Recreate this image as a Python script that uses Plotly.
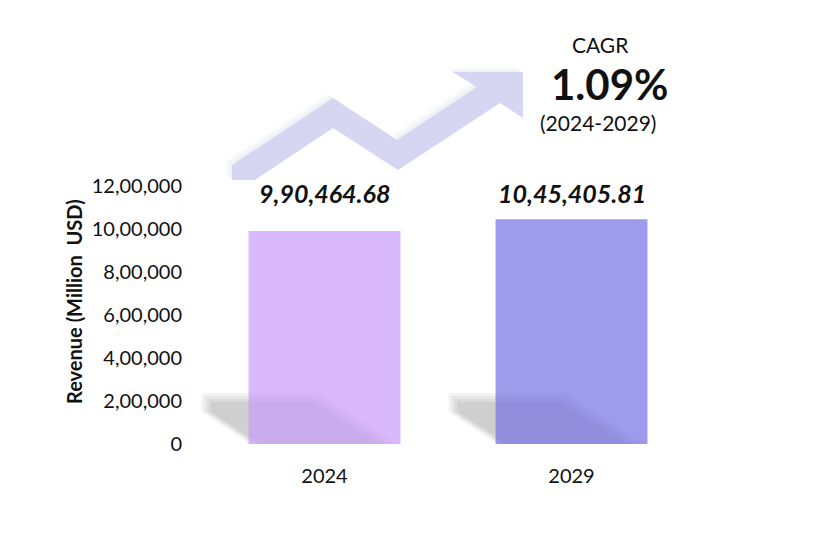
import plotly.graph_objects as go

# chart data
years = ["2024", "2029"]
revenue = [990464.68, 1045405.81]
bar_colors = ["#d9b8fc", "#9e9aec"]
y_ticks = [0, 200000, 400000, 600000, 800000, 1000000, 1200000]
cagr_text = "1.09%"
cagr_period = "(2024-2029)"

FONT = "Lato"

# the page body adds an 8px margin, so the figure is drawn 8px smaller
OFF = 8
W, H = 820 - OFF, 538 - OFF
# plot box in screen pixels (used to place the decorations)
L, R, T, B = 201 - OFF, 125, 186 - OFF, 94
PW, PH = W - L - R, H - T - B
BAR_W = 0.615


def indian_format(v, decimals=0):
    # 1234567.8 -> 12,34,567.80
    s = f"{v:.{decimals}f}"
    if "." in s:
        whole, frac = s.split(".")
    else:
        whole, frac = s, ""
    if len(whole) > 3:
        head, tail = whole[:-3], whole[-3:]
        groups = []
        while len(head) > 2:
            groups.insert(0, head[-2:])
            head = head[:-2]
        if head:
            groups.insert(0, head)
        whole = ",".join(groups) + "," + tail
    return whole + ("." + frac if frac else "")


def px_to_paper(x, y):
    # screen pixel -> paper coords
    x, y = x - OFF, y - OFF
    return (x - L) / PW, (H - B - y) / PH


def path_from_pixels(points):
    pts = [px_to_paper(x, y) for x, y in points]
    d = "M " + " L ".join(f"{x:.4f},{y:.4f}" for x, y in pts) + " Z"
    return d


fig = go.Figure()

fig.add_trace(go.Bar(
    x=years,
    y=revenue,
    marker=dict(color=bar_colors, line=dict(width=0)),
    width=BAR_W,
    hoverinfo="skip",
))

shapes = []

# zigzag arrow in the background (pixel outline converted to paper coords)
arrow = [(232, 165), (333, 98), (397, 140), (477, 87), (453, 72), (523, 72),
         (523, 118), (500, 103), (398, 170), (333, 128), (255, 180), (232, 180)]
for dx, dy, op in [(-6, -4, 0.35), (-3, -2, 0.5)]:
    glow = [(x + dx, y + dy) for x, y in arrow]
    shapes.append(dict(type="path", xref="paper", yref="paper", layer="below",
                       path=path_from_pixels(glow), fillcolor=f"rgba(232,238,240,{op})",
                       line=dict(width=0)))
shapes.append(dict(type="path", xref="paper", yref="paper", layer="below",
                   path=path_from_pixels(arrow), fillcolor="#d6d6f3",
                   line=dict(width=0)))

# soft floor shadows cast to the left of each bar
# outline given as (category offset, value) pairs relative to the bar
px_per_cat = PW / 2
val_per_px = 1200000 / PH


def shadow_path(i, inset):
    d = inset / px_per_cat
    dv = inset * val_per_px
    pts = [(-0.498 + d, 237000 - dv), (-0.02 - d, 237000 - dv), (0.296 - 2 * d, 0),
           (-0.30 + d, 0), (-0.498 + d, 150000)]
    return "M " + " L ".join(f"{i + a:.4f},{b:.0f}" for a, b in pts) + " Z"


for i, v in enumerate(revenue):
    for k in range(4):
        shapes.append(dict(type="path", xref="x", yref="y", layer="below",
                           path=shadow_path(i, k * 3), fillcolor="rgba(0,0,0,0.033)",
                           line=dict(width=0)))
        shapes.append(dict(type="path", xref="x", yref="y", layer="above",
                           path=shadow_path(i, k * 3), fillcolor="rgba(0,0,0,0.016)",
                           line=dict(width=0)))

annotations = []
for i, v in enumerate(revenue):
    annotations.append(dict(
        x=i, y=px_to_paper(0, 193)[1], xref="x", yref="paper",
        xanchor="center", yanchor="middle",
        text=f"<b><i>{indian_format(v, 2)}</i></b>", showarrow=False,
        font=dict(family=FONT, size=25, color="#111111")))


def label(px, py, text, size):
    ax, ay = px_to_paper(px, py)
    return dict(x=ax, y=ay, xref="paper", yref="paper", xanchor="center",
                yanchor="middle", text=text, showarrow=False,
                font=dict(family=FONT, size=size, color="#111111"))


annotations.append(label(600, 45, "CAGR", 21))
annotations.append(label(609, 84, f"<b>{cagr_text}</b>", 42))
annotations.append(label(598, 122, cagr_period, 21))

# y axis title
t = label(74, 302, "<b>Revenue (Million  USD)</b>", 20)
t["textangle"] = -90
annotations.append(t)

fig.update_layout(
    width=W, height=H,
    margin=dict(l=L, r=R, t=T, b=B, autoexpand=False),
    paper_bgcolor="white", plot_bgcolor="white",
    showlegend=False,
    bargap=0.385,
    shapes=shapes,
    annotations=annotations,
    font=dict(family=FONT, color="#111111"),
)
fig.update_xaxes(type="category", range=[-0.5, 1.5], showgrid=False, showline=False,
                 ticks="", tickfont=dict(size=20), ticklabelstandoff=18)
fig.update_yaxes(range=[0, 1200000], showgrid=False, showline=False, zeroline=False,
                 tickvals=y_ticks, ticktext=[indian_format(v) for v in y_ticks],
                 tickfont=dict(size=20), ticklabelstandoff=18)

fig.write_html("out.html")
